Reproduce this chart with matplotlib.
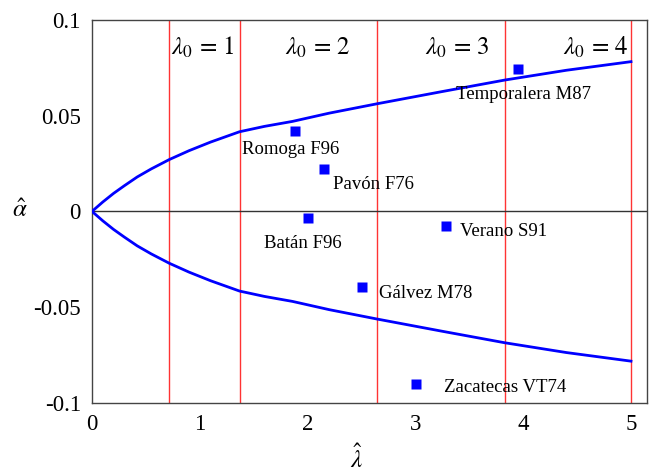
import matplotlib
matplotlib.use('Agg')
import matplotlib.pyplot as plt

# Change fonts to Times-like
plt.rcParams['font.family'] = ['Liberation Serif', 'DejaVu Serif']
plt.rcParams['mathtext.fontset'] = 'stix'

# envelope (upper half, lower is mirrored)
env_x = [0.0, 0.1, 0.2, 0.3, 0.42, 0.55, 0.718, 0.9, 1.1, 1.369,
	1.6, 1.86, 2.2, 2.644, 3.25, 3.83, 4.4, 5.0]
env_y = [0.0, 0.0049, 0.0094, 0.0134, 0.0180, 0.0222, 0.0271, 0.0317, 0.0362, 0.0416,
	0.0444, 0.0470, 0.0513, 0.0562, 0.0626, 0.0686, 0.0737, 0.0782]

# lambda_0 boundaries
lam_lines = [0.718, 1.369, 2.644, 3.83, 5.0]
lam_names = ['$\\lambda_0\\,=\\,1$', '$\\lambda_0\\,=\\,2$', '$\\lambda_0\\,=\\,3$', '$\\lambda_0\\,=\\,4$']
lam_label_x = [1.03, 2.10, 3.39, 4.67]

# sites
site_names = ['Romoga F96', 'Pavón F76', 'Batán F96', 'Verano S91',
              'Gálvez M78', 'Zacatecas VT74', 'Temporalera M87']
site_x = [1.884, 2.15, 2.0, 3.28, 2.503, 3.005, 3.95]
site_y = [0.0422, 0.0224, -0.0032, -0.0074, -0.0393, -0.0903, 0.0742]
site_off = [(-53, -19), (9, -16), (-44, -26), (14, -6), (17, -7), (28, -3), (-62, -25)]

xticks = [0, 1, 2, 3, 4, 5]
yticks = [0.1, 0.05, 0, -0.05, -0.1]
ytick_labels = ['0.1', '0.05', '0', '-0.05', '-0.1']

fig = plt.figure(figsize=(6.57, 4.74), dpi=100)
ax = fig.add_axes([0.140, 0.150, 0.845, 0.808])

for xl in lam_lines:
	ax.axvline(xl, color='#ff3333', lw=1.0, zorder=1)
ax.axhline(0, color='#333333', lw=1.0, zorder=1)

ax.plot(env_x, env_y, color='#0000ff', lw=2.0, zorder=3)
ax.plot(env_x, [-v for v in env_y], color='#0000ff', lw=2.0, zorder=3)

for name, lx in zip(lam_names, lam_label_x):
	ax.text(lx, 0.0855, name, fontsize=18, ha='center', va='center')

ax.plot(site_x, site_y, 's', color='#0000ff', ms=7, mec='none', zorder=4)
for name, sx, sy, off in zip(site_names, site_x, site_y, site_off):
	ax.annotate(name, (sx, sy), xytext=off, textcoords='offset pixels',
		ha='left', va='center', fontsize=13.5)

ax.set_xlim(0, 5.15)
ax.set_ylim(-0.1, 0.1)
ax.set_xticks(xticks)
ax.set_xticklabels([str(t) for t in xticks])
ax.set_yticks(yticks)
ax.set_yticklabels(ytick_labels)
ax.tick_params(length=0, labelsize=16.5, pad=8)

for sp in ax.spines.values():
	sp.set_color('#444444')
	sp.set_linewidth(1.0)

fig.text(20 / 657, 1 - 211 / 474, '$\\hat{\\alpha}$', fontsize=18, ha='center', va='center')
fig.text(357 / 657, 1 - 459 / 474, '$\\hat{\\lambda}$', fontsize=18, ha='center', va='center')

fig.savefig('out.png', dpi=100)
